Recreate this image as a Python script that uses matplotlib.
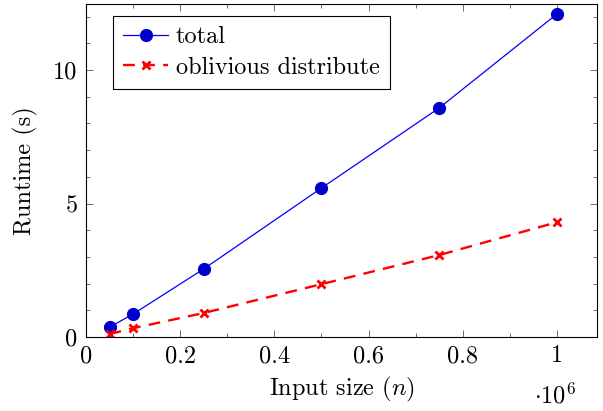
import matplotlib
matplotlib.use("Agg")
import matplotlib.pyplot as plt
from matplotlib.ticker import MultipleLocator

plt.rcParams['font.family'] = 'serif'
plt.rcParams['font.serif'] = ['cmr10', 'DejaVu Serif']
plt.rcParams['mathtext.fontset'] = 'cm'
plt.rcParams['axes.formatter.use_mathtext'] = True

sizes = [0.05, 0.1, 0.25, 0.5, 0.75, 1.0]  # in units of 10^6
total = [0.37, 0.86, 2.55, 5.58, 8.58, 12.1]
oblivious = [0.11, 0.33, 0.9, 1.98, 3.07, 4.3]

FS = 17.5
fig = plt.figure(figsize=(6.03, 4.11), dpi=100)
ax = fig.add_axes([0.1426, 0.180, 0.8474, 0.810])

ax.plot(sizes, total, color='blue', lw=0.9, marker='o', markersize=8.5,
        markerfacecolor='#0000cc', markeredgecolor='#0000cc', label='total')
ax.plot(sizes, oblivious, color='red', lw=1.7, ls=(0, (5, 3.5)), marker='x',
        markersize=6, markeredgewidth=2, label='oblivious distribute')

ax.set_xlim(0, 1.085)
ax.set_ylim(0, 12.47)
ax.xaxis.set_minor_locator(MultipleLocator(0.1))
ax.yaxis.set_minor_locator(MultipleLocator(1))
ax.set_xticks([0, 0.2, 0.4, 0.6, 0.8, 1.0])
ax.set_xticklabels(['0', '0.2', '0.4', '0.6', '0.8', '1'])
ax.set_yticks([0, 5, 10])
ax.set_yticklabels(['0', '5', '10'])
ax.tick_params(which='both', direction='in', top=True, right=True,
               color='#555555', labelsize=FS, pad=6)
ax.tick_params(which='major', length=5, width=0.6)
ax.tick_params(which='minor', length=3, width=0.6)
for s in ax.spines.values():
    s.set_linewidth(0.8)

ax.set_xlabel('Input size ($n$)', fontsize=FS, labelpad=5)
ax.set_ylabel('Runtime (s)', fontsize=FS, labelpad=11)
fig.text(0.921, 0.038, r'$\cdot 10^{6}$', fontsize=FS, ha='center', va='center')

leg = ax.legend(loc='upper left', bbox_to_anchor=(0.053, 0.964), fontsize=FS,
                frameon=True, fancybox=False, edgecolor='black', framealpha=1,
                handlelength=1.85, borderpad=0.42, labelspacing=0.33,
                handletextpad=0.3, borderaxespad=0)
leg.get_frame().set_linewidth(0.8)

fig.savefig('out.png', dpi=100)
